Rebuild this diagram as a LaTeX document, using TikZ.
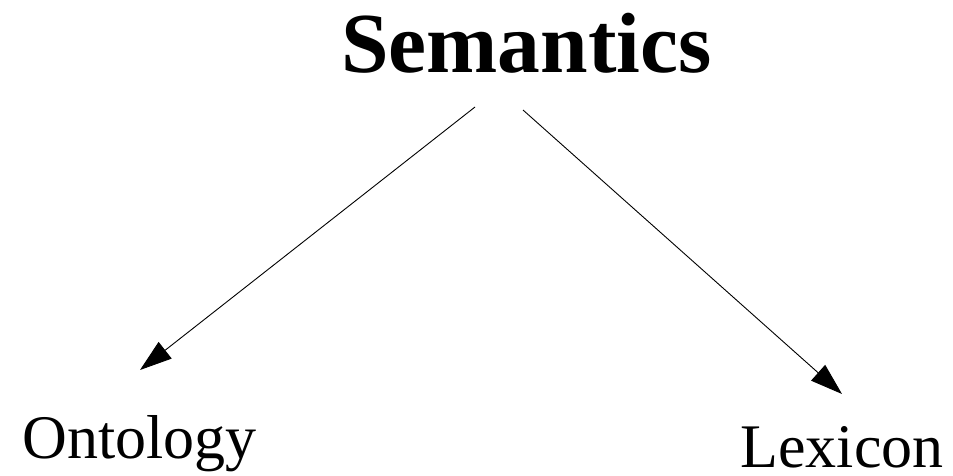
\documentclass[tikz,border=0pt]{standalone}
\usepackage{fontspec}
\setmainfont{Liberation Serif}
\usetikzlibrary{arrows.meta}
\begin{document}
\begin{tikzpicture}[x=1pt,y=1pt,
  lbl/.style={anchor=base,inner sep=0pt,font=\fontsize{62}{62}\selectfont},
  ttl/.style={anchor=base,inner sep=0pt,font=\fontsize{85.5}{86}\selectfont\bfseries},
  arr/.style={line width=0.9pt,-{Triangle[length=32pt,width=21pt]}}]
\useasboundingbox (0,0) rectangle (953,475);
\node[ttl] (sem) at (526.5,402) {Semantics};
\node[lbl] (ont) at (139.5,17) {Ontology};
\node[lbl] (lex) at (842,8) {Lexicon};
\coordinate (s1) at (475,368);
\coordinate (s2) at (523,365);
\coordinate (o1) at (140,105);
\coordinate (l1) at (842,81);
\draw[arr] (s1) -- (o1);
\draw[arr] (s2) -- (l1);
\end{tikzpicture}
\end{document}
